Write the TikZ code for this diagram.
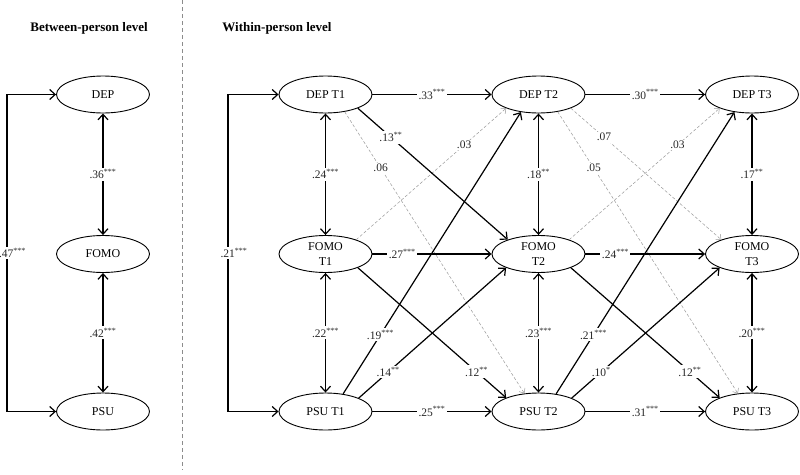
\documentclass[tikz,border=0pt]{standalone}
\usepackage{fontspec}
\setmainfont{Liberation Serif}
\usetikzlibrary{arrows.meta,shapes.geometric}
\begin{document}
\begin{tikzpicture}[x=1pt,y=-1pt,
  var/.style={ellipse,draw,line width=0.9pt,minimum width=93pt,minimum height=37pt,inner sep=0pt,align=center,font=\fontsize{12}{15}\selectfont},
  tip/.tip={Straight Barb[length=5.5pt,width=10pt]},
  sig/.style={line width=1.2pt,-tip},
  cov/.style={line width=1.2pt,tip-tip},
  ns/.style={draw=black!40,line width=0.5pt,dash pattern=on 3pt off 2pt,-{Straight Barb[length=4pt,width=7pt]}},
  lab/.style={fill=white,inner sep=1.5pt,text=black!85,font=\fontsize{11.5}{13}\selectfont},
  title/.style={font=\bfseries\fontsize{13}{15}\selectfont}
]
\useasboundingbox (0,0) rectangle (800,474);
\fill[white] (0,0) rectangle (800,474);

% titles and separator
\node[title] (t1) at (89,28) {Between-person level};
\node[title] (t2) at (277,28) {Within-person level};
\coordinate (s1) at (182,0);
\coordinate (s2) at (182,470);
\draw[black!45,line width=0.6pt,dash pattern=on 4pt off 3pt] (s1) -- (s2);

% between-person
\node[var] (bdep) at (103,94.5) {DEP};
\node[var] (bfomo) at (103,254) {FOMO};
\node[var] (bpsu) at (103,411.5) {PSU};
\coordinate (bx) at (7,0);
\draw[cov] (bdep.west) -- (bdep.west -| bx) |- (bpsu.west);
\node[lab] (l47) at (12.5,253) {.47\textsuperscript{***}};
\draw[cov] (bdep) -- node[lab]{.36\textsuperscript{***}} (bfomo);
\draw[cov] (bfomo) -- node[lab]{.42\textsuperscript{***}} (bpsu);

% within-person nodes
\node[var] (d1) at (325.5,94.5) {DEP T1};
\node[var] (f1) at (325.5,254) {FOMO\\T1};
\node[var] (p1) at (325.5,411.5) {PSU T1};
\node[var] (d2) at (538.5,94.5) {DEP T2};
\node[var] (f2) at (538.5,254) {FOMO\\T2};
\node[var] (p2) at (538.5,411.5) {PSU T2};
\node[var] (d3) at (752,94.5) {DEP T3};
\node[var] (f3) at (752,254) {FOMO\\T3};
\node[var] (p3) at (752,411.5) {PSU T3};

\coordinate (wx) at (228,0);
\draw[cov] (d1.west) -- (d1.west -| wx) |- (p1.west);
\node[lab] (l21) at (234,253) {.21\textsuperscript{***}};

% covariances
\draw[cov] (d1) -- node[lab]{.24\textsuperscript{***}} (f1);
\draw[cov] (f1) -- node[lab]{.22\textsuperscript{***}} (p1);
\draw[cov] (d2) -- node[lab]{.18\textsuperscript{**}} (f2);
\draw[cov] (f2) -- node[lab]{.23\textsuperscript{***}} (p2);
\draw[cov] (d3) -- node[lab]{.17\textsuperscript{**}} (f3);
\draw[cov] (f3) -- node[lab]{.20\textsuperscript{***}} (p3);

% non-significant cross-lagged paths
\draw[ns] (d1.-42) -- node[lab,pos=0.2]{.06} (p2.128);
\draw[ns] (f1.25) -- node[lab,pos=0.72]{.03} (d2.203);
\draw[ns] (d2.-42) -- node[lab,pos=0.2]{.05} (p3.128);
\draw[ns] (d2.-23) -- node[lab,pos=0.22]{.07} (f3.155);
\draw[ns] (f2.25) -- node[lab,pos=0.72]{.03} (d3.203);

% significant cross-lagged paths
\draw[sig] (d1.-23) -- node[lab,pos=0.22]{.13\textsuperscript{**}} (f2.155);
\draw[sig] (f1.-23) -- node[lab,pos=0.8]{.12\textsuperscript{**}} (p2.157);
\draw[sig] (p1.45) -- node[lab,pos=0.21]{.19\textsuperscript{***}} (d2.225);
\draw[sig] (p1.22) -- node[lab,pos=0.2]{.14\textsuperscript{**}} (f2.203);
\draw[sig] (f2.-23) -- node[lab,pos=0.8]{.12\textsuperscript{**}} (p3.157);
\draw[sig] (p2.45) -- node[lab,pos=0.21]{.21\textsuperscript{***}} (d3.225);
\draw[sig] (p2.22) -- node[lab,pos=0.2]{.10\textsuperscript{*}} (f3.203);

% autoregressive paths
\draw[sig] (d1) -- node[lab]{.33\textsuperscript{***}} (d2);
\draw[sig] (d2) -- node[lab]{.30\textsuperscript{***}} (d3);
\draw[sig] (f1) -- node[lab,pos=0.25]{.27\textsuperscript{***}} (f2);
\draw[sig] (f2) -- node[lab,pos=0.25]{.24\textsuperscript{***}} (f3);
\draw[sig] (p1) -- node[lab]{.25\textsuperscript{***}} (p2);
\draw[sig] (p2) -- node[lab]{.31\textsuperscript{***}} (p3);
\end{tikzpicture}
\end{document}
